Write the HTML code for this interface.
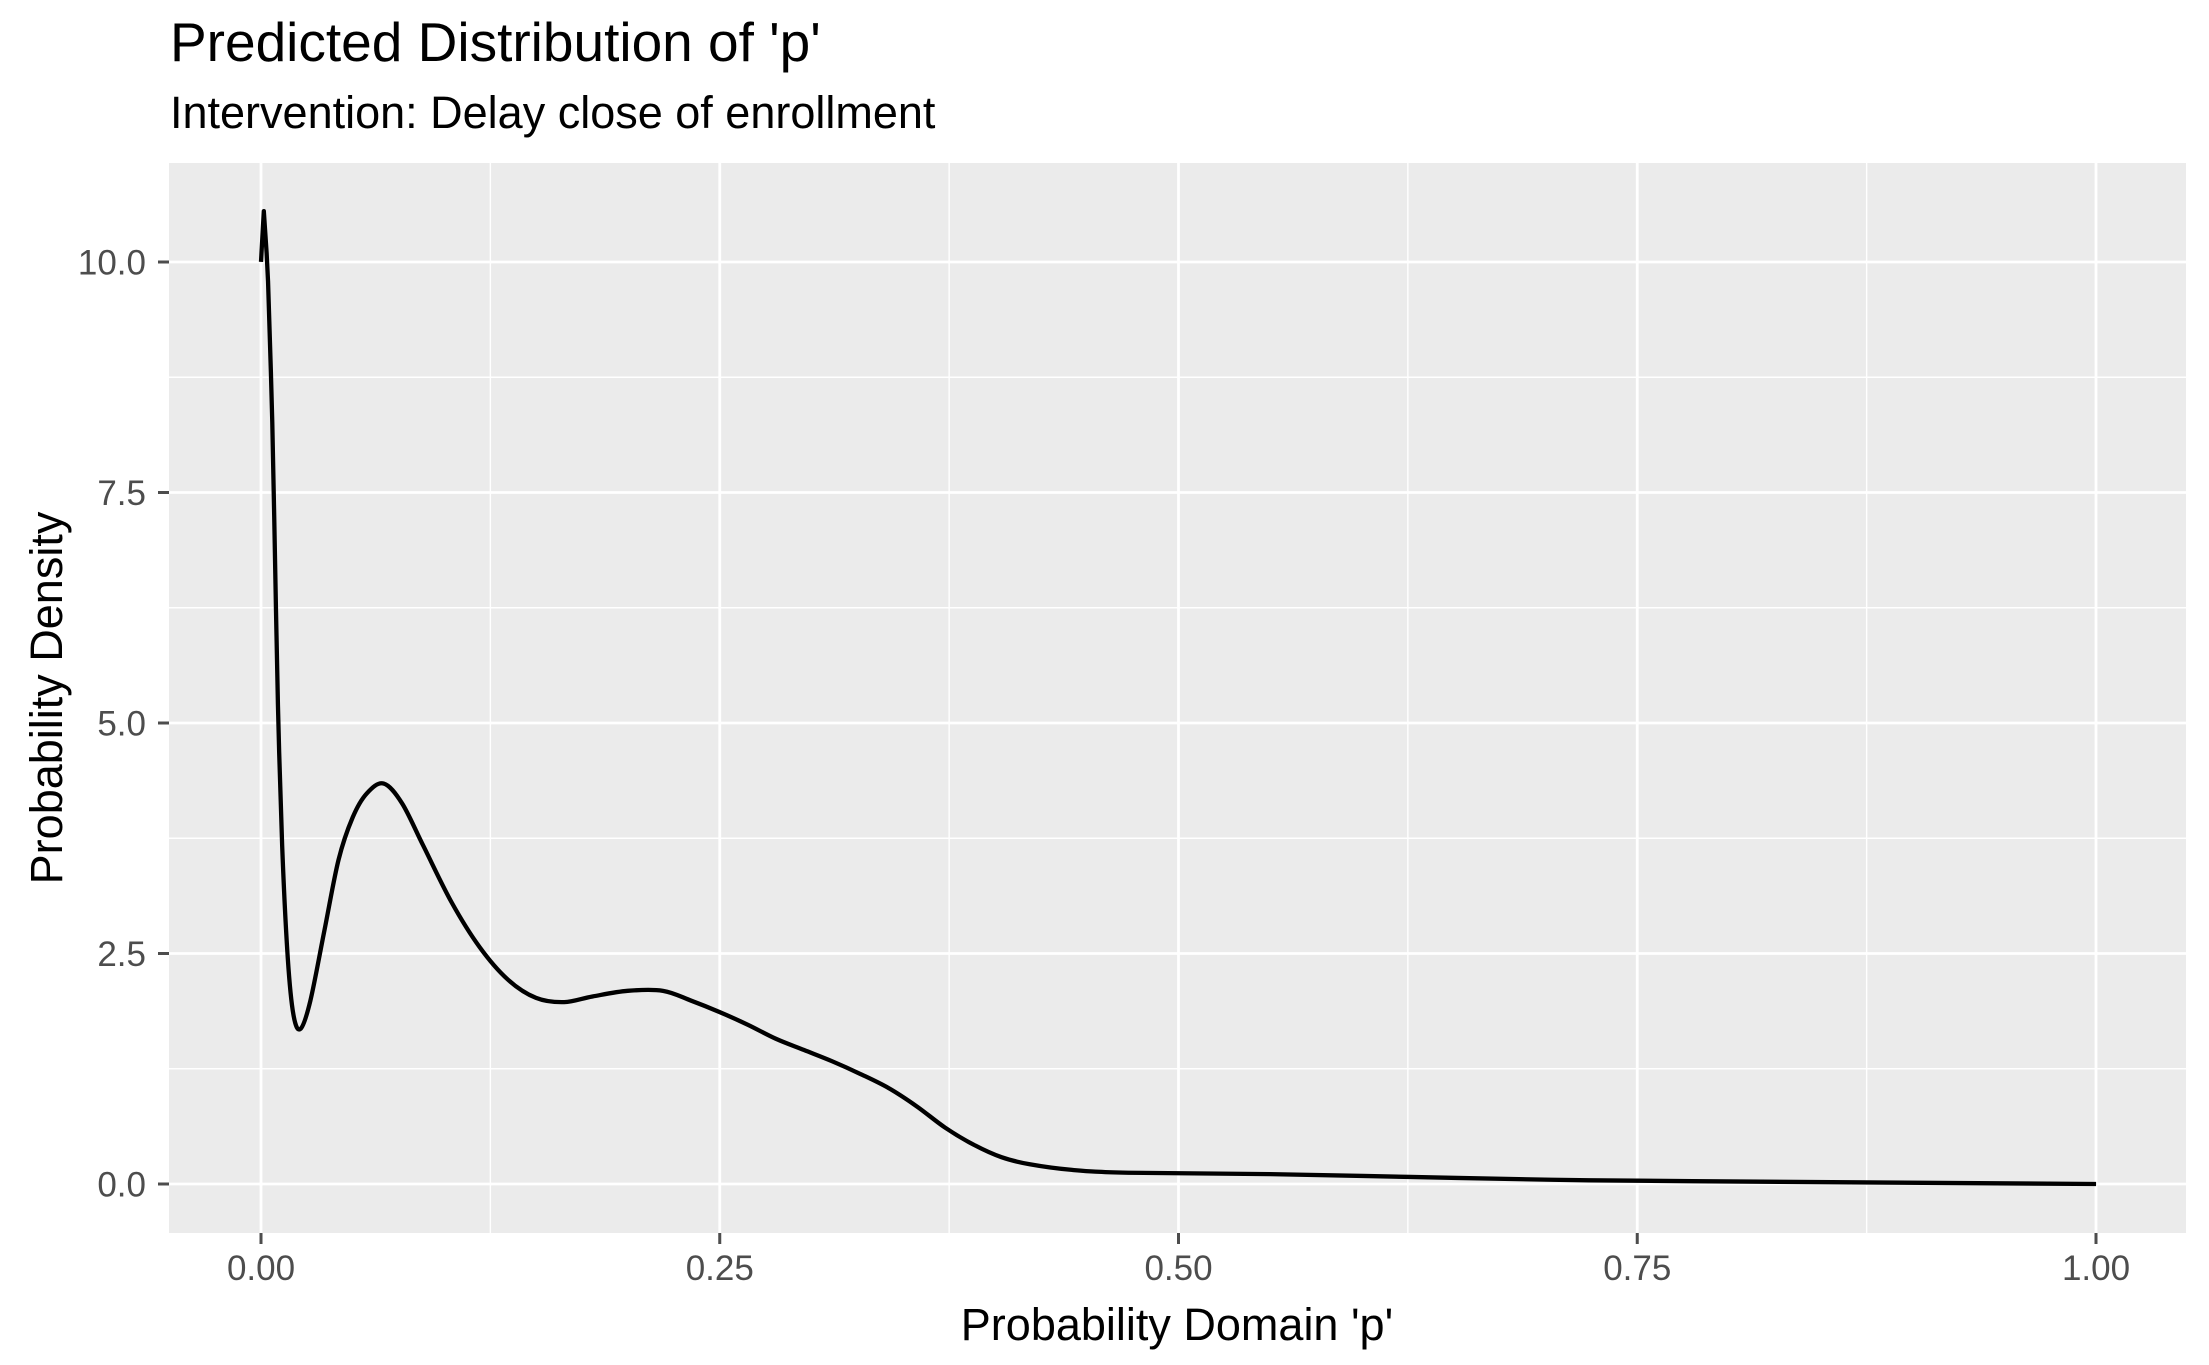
<!DOCTYPE html>
<html><head><meta charset="utf-8"><style>body{margin:0;background:#fff}svg{display:block}text{font-family:"Liberation Sans",sans-serif}</style></head>
<body>
<svg id="s" width="2209" height="1365" xmlns="http://www.w3.org/2000/svg">
<rect x="169" y="163" width="2017" height="1070" fill="#ebebeb"/>
<g id="grid"></g>
<path id="curve" fill="none" stroke="#000" stroke-width="4.3" stroke-linejoin="round"/>
<g id="ticks" fill="#4d4d4d" font-size="35"></g>
<text x="170" y="61" font-size="55" fill="#000">Predicted Distribution of 'p'</text>
<text x="170" y="128" font-size="45" fill="#000">Intervention: Delay close of enrollment</text>
<text x="1177" y="1340" font-size="45" text-anchor="middle">Probability Domain 'p'</text>
<text transform="translate(62,698) rotate(-90)" font-size="45" text-anchor="middle">Probability Density</text>
</svg>
<script>
var X=function(p){return 261+1835*p},Y=function(d){return 1184-92.2*d};
var g='',t='';
for(var i=0;i<=8;i++){var x=X(i/8);g+='<line x1="'+x+'" x2="'+x+'" y1="163" y2="1233" stroke="#fff" stroke-width="'+(i%2?1.4:2.8)+'"/>';}
for(var j=0;j<=9;j++){var d=j*1.25;var y=Y(d);if(y<163)continue;g+='<line x1="169" x2="2186" y1="'+y+'" y2="'+y+'" stroke="#fff" stroke-width="'+(j%2?1.4:2.8)+'"/>';}
document.getElementById('grid').innerHTML=g;
var xl=['0.00','0.25','0.50','0.75','1.00'];
for(var i=0;i<5;i++){var x=X(i/4);t+='<rect x="'+(x-1.5)+'" y="1233" width="3" height="11"/><text x="'+x+'" y="1280" text-anchor="middle">'+xl[i]+'</text>';}
var yl=['0.0','2.5','5.0','7.5','10.0'];
for(var i=0;i<5;i++){var y=Y(i*2.5);t+='<rect x="158" y="'+(y-1.5)+'" width="11" height="3"/><text x="146" y="'+(y+12.5)+'" text-anchor="end">'+yl[i]+'</text>';}
document.getElementById('ticks').innerHTML=t;
var pts=[[185,186],[187,150],[189,180],[190,200],[193,300],[195,400],[197,500],[200,600],[204,680],[208,720],[213,730],[220,710],[230,660],[240,610],[250,580],[260,563],[272,556],[285,570],[300,600],[320,640],[340,672],[360,695],[380,708],[400,711],[420,707],[445,703],[470,703],[490,710],[510,718],[530,727],[550,737],[570,745],[590,753],[610,762],[630,772],[650,785],[670,800],[690,812],[710,821],[730,826],[760,830],[800,832],[900,833],[1000,835],[1100,837],[1200,838],[1486,840]];
var P=pts.map(function(a){return [261+(a[0]-185)*1.4105,1184-(840-a[1])*1.41]});
var s='M'+P[0][0]+','+P[0][1];
for(var i=1;i<P.length;i++){var p0=P[i-2]||P[i-1],p1=P[i-1],p2=P[i],p3=P[i+1]||P[i];
if(i<=3){s+=' L'+p2[0]+','+p2[1];continue;}
var c1=[p1[0]+(p2[0]-p0[0])/6,p1[1]+(p2[1]-p0[1])/6],c2=[p2[0]-(p3[0]-p1[0])/6,p2[1]-(p3[1]-p1[1])/6];
s+=' C'+c1+' '+c2+' '+p2;}
document.getElementById('curve').setAttribute('d',s);
</script>
</body></html>
